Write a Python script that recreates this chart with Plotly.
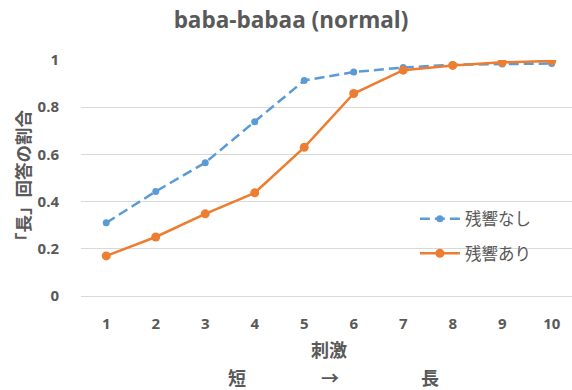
import plotly.graph_objects as go

stimuli = [1, 2, 3, 4, 5, 6, 7, 8, 9, 10]
no_reverb = [0.31, 0.443, 0.565, 0.738, 0.913, 0.949, 0.968, 0.98, 0.983, 0.985]
with_reverb = [0.17, 0.25, 0.348, 0.437, 0.63, 0.858, 0.957, 0.977, 0.99, 0.996]
series_names = ["残響なし", "残響あり"]
y_ticks = [0, 0.2, 0.4, 0.6, 0.8, 1]
y_tick_labels = ["0", "0.2", "0.4", "0.6", "0.8", "1"]

FONT = "'Open Sans', 'Noto Sans CJK JP', sans-serif"
JPFONT = "'Noto Sans CJK JP', 'Open Sans', sans-serif"
GREY = "#595959"

fig = go.Figure()
fig.add_trace(go.Scatter(
    x=stimuli, y=no_reverb, name=series_names[0], mode="lines+markers",
    legendgroup="a",
    line=dict(color="#5B9BD5", width=2.5, dash="10px,5px"),
    marker=dict(color="#5B9BD5", size=7, symbol="circle"),
))
fig.add_trace(go.Scatter(
    x=stimuli, y=with_reverb, name=series_names[1], mode="lines+markers",
    legendgroup="b",
    line=dict(color="#ED7D31", width=2.5),
    marker=dict(color="#ED7D31", size=9, symbol="circle"),
))

fig.update_layout(
    width=572, height=390,
    margin=dict(l=81, r=0, t=60, b=94),
    paper_bgcolor="white", plot_bgcolor="white",
    font=dict(family=FONT, color=GREY, size=14),
    title=dict(text="<b>baba-babaa (normal)</b>", x=291 / 572, xref="container",
               xanchor="center", y=1 - 20 / 390, yanchor="middle",
               font=dict(family=FONT, size=22.5, color=GREY)),
    showlegend=True,
    legend=dict(x=0.68, y=0.40, xanchor="left", yanchor="top",
                bgcolor="rgba(0,0,0,0)", font=dict(family=JPFONT, size=16.5, color=GREY),
                tracegroupgap=10, itemwidth=40),
    xaxis=dict(range=[0.49, 10.41], tickmode="array", tickvals=stimuli,
               ticktext=[str(s) for s in stimuli], showgrid=False,
               showline=False, zeroline=False, ticks="outside", ticklen=0,
               ticklabelstandoff=14,
               tickfont=dict(family=FONT, size=15, color=GREY, weight="bold"),
               fixedrange=True),
    yaxis=dict(range=[0, 1.0], tickmode="array", tickvals=y_ticks, ticktext=y_tick_labels,
               showgrid=True, gridcolor="#D9D9D9", gridwidth=1, zeroline=True,
               zerolinecolor="#D9D9D9", zerolinewidth=1, showline=False,
               ticks="outside", ticklen=0, ticklabelstandoff=18,
               tickfont=dict(family=FONT, size=15, color=GREY, weight="bold"),
               fixedrange=True),
)

fig.add_annotation(text="<b>「長」回答の割合</b>", xref="paper", yref="paper",
                   x=(22 - 81) / 491, y=(296 - 180) / 236, textangle=-90,
                   showarrow=False, xanchor="center", yanchor="middle",
                   font=dict(family=JPFONT, size=17.5, color=GREY))
fig.add_annotation(text="<b>刺激</b>", xref="paper", yref="paper",
                   x=(329 - 81) / 491, y=(296 - 349) / 236, showarrow=False,
                   xanchor="center", yanchor="middle",
                   font=dict(family=JPFONT, size=18, color=GREY))
for txt, px in [("短", 237), ("→", 330), ("長", 430)]:
    fig.add_annotation(text="<b>" + txt + "</b>", xref="paper", yref="paper",
                       x=(px - 81) / 491, y=(296 - 377) / 236, showarrow=False,
                       xanchor="center", yanchor="middle",
                       font=dict(family=JPFONT, size=18, color=GREY))

fig.write_html("out.html", config={"displayModeBar": False},
               post_script="document.body.style.margin='0';")
